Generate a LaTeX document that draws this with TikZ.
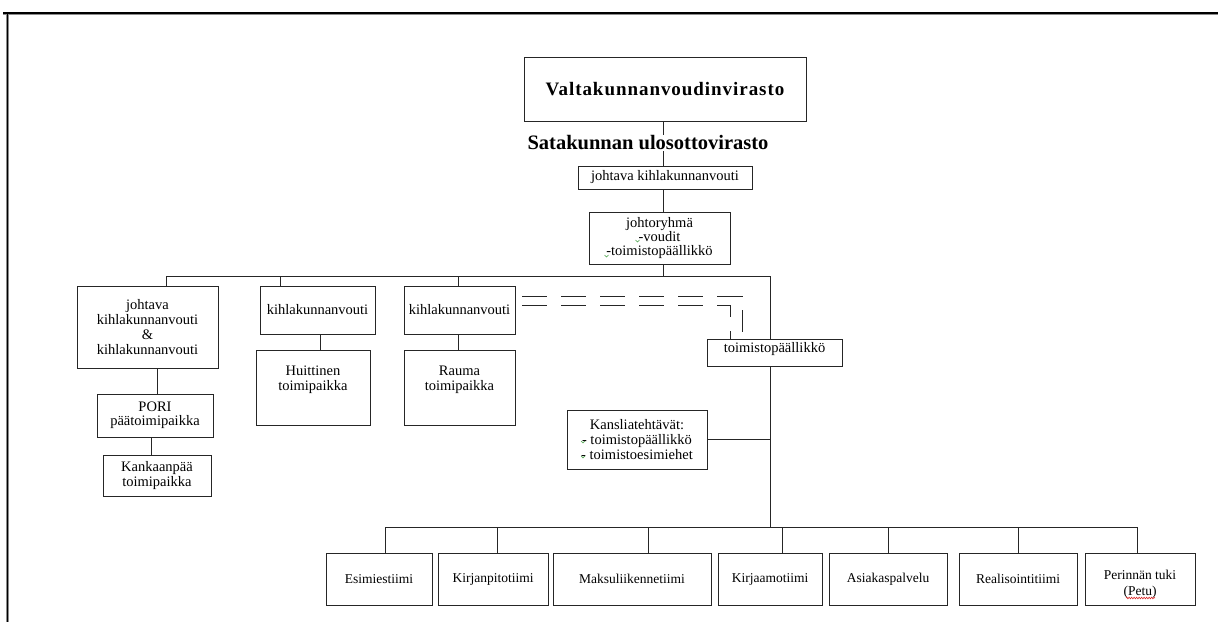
\documentclass[tikz,border=0pt]{standalone}
\usepackage{fontspec}
\usetikzlibrary{decorations.pathmorphing}
\setmainfont{Liberation Serif}
\definecolor{sqgreen}{RGB}{70,160,70}
\definecolor{sqred}{RGB}{220,40,40}
\begin{document}
\begin{tikzpicture}[x=1pt,y=-1pt,
  box/.style={draw=black!85, line width=0.9pt, fill=white, inner sep=0pt, align=center,
    font=\fontsize{14.5}{15}\selectfont},
  tbox/.style={box, minimum height=52pt, font=\fontsize{13.5}{16}\selectfont},
  conn/.style={draw=black!85, line width=0.9pt},
  dconn/.style={conn, dash pattern=on 25pt off 14pt},
  toplabel/.style={anchor=north, inner sep=0pt, align=center, font=\fontsize{14.5}{15}\selectfont},
  gsq/.style={draw=sqgreen, line width=0.6pt},
  rsq/.style={draw=sqred, line width=0.6pt, decorate, decoration={zigzag, amplitude=0.8pt, segment length=2.5pt}}]
\useasboundingbox (0,0) rectangle (1218,622);
% frame
\draw[black!45, line width=3pt] (3,13) -- (1218,13);
\draw[black!45, line width=3pt] (7.5,13) -- (7.5,622);
\draw[black, line width=1.5pt] (3,13) -- (1218,13);
\draw[black, line width=1.5pt] (7.5,13) -- (7.5,622);

% top
\node[box, minimum width=282pt, minimum height=64pt,
  font=\fontsize{19}{22}\selectfont\bfseries\addfontfeature{LetterSpace=5}] (vvv) at (665,89) {Valtakunnanvoudinvirasto};
\node[inner sep=1pt, font=\fontsize{20.5}{22}\selectfont\bfseries] (suv) at (648,143) {Satakunnan ulosottovirasto};
\node[box, minimum width=174pt, minimum height=23pt] (jkv) at (665,177.5) {johtava kihlakunnanvouti};
\node[box, minimum width=141pt, minimum height=52pt, font=\fontsize{14.5}{14}\selectfont] (jr) at (659.5,238) {johtoryhmä\\-voudit\\-toimistopäällikkö};

% second level
\node[box, minimum width=141pt, minimum height=82pt] (b1) at (147.5,327) {johtava\\kihlakunnanvouti\\\&\\kihlakunnanvouti};
\node[box, minimum width=115pt, minimum height=48pt] (b2) at (317.5,310) {kihlakunnanvouti};
\node[box, minimum width=111pt, minimum height=48pt] (b3) at (459.5,310) {kihlakunnanvouti};
\node[box, minimum width=114pt, minimum height=75pt,
  label={[toplabel, yshift=-16pt]north:Huittinen\\toimipaikka}] (hu) at (313,387.5) {};
\node[box, minimum width=111pt, minimum height=75pt,
  label={[toplabel, yshift=-16pt]north:Rauma\\toimipaikka}] (ra) at (459.5,387.5) {};
\node[box, minimum width=116pt, minimum height=43pt, font=\fontsize{14.5}{14}\selectfont] (po) at (155,415.5) {PORI\\päätoimipaikka};
\node[box, minimum width=108pt, minimum height=41pt, font=\fontsize{14.5}{15}\selectfont] (ka) at (157,475.5) {Kankaanpää\\toimipaikka};
\node[box, minimum width=135pt, minimum height=27pt,
  label={[toplabel, yshift=-4pt]north:toimistopäällikkö}] (tp) at (774.5,352.5) {};
\node[box, minimum width=140pt, minimum height=59pt, font=\fontsize{14.5}{15}\selectfont] (kt) at (637,439.5) {Kansliatehtävät:\\- toimistopäällikkö\\- toimistoesimiehet};

% bottom row
\node[tbox, minimum width=106pt] (e1) at (379,579) {Esimiestiimi};
\node[tbox, minimum width=110pt] (e2) at (493,579) {Kirjanpitotiimi};
\node[tbox, minimum width=158pt] (e3) at (632,579) {Maksuliikennetiimi};
\node[tbox, minimum width=104pt] (e4) at (770,579) {Kirjaamotiimi};
\node[tbox, minimum width=118pt] (e5) at (888,579) {Asiakaspalvelu};
\node[tbox, minimum width=118pt] (e6) at (1018,579) {Realisointitiimi};
\node[tbox, minimum width=110pt,
  label={[toplabel, yshift=-17pt, font=\fontsize{13.5}{16}\selectfont]north:Perinnän tuki\\(Petu)}] (e7) at (1140,579) {};

% coordinates
\coordinate (c0) at (663,0);
\coordinate (hL) at (166,276);
\coordinate (h2) at (280,276);
\coordinate (h3) at (458,276);
\coordinate (hR) at (770,276);
\coordinate (bL) at (385,527);
\coordinate (bR) at (1137,527);

% connectors
\draw[conn] (c0 |- vvv.south) -- (c0 |- suv.north);
\draw[conn] (c0 |- suv.south) -- (c0 |- jkv.north);
\draw[conn] (c0 |- jkv.south) -- (c0 |- jr.north);
\draw[conn] (c0 |- jr.south) -- (c0 |- hR);
\draw[conn] (hL) -- (hR);
\draw[conn] (hL) -- (hL |- b1.north);
\draw[conn] (h2) -- (h2 |- b2.north);
\draw[conn] (h3) -- (h3 |- b3.north);
\draw[conn] (320,0 |- b2.south) -- (320,0 |- hu.north);
\draw[conn] (h3 |- b3.south) -- (h3 |- ra.north);
\draw[conn] (157,0 |- b1.south) -- (157,0 |- po.north);
\draw[conn] (151,0 |- po.south) -- (151,0 |- ka.north);
\draw[conn] (hR) -- (hR |- tp.north);
\draw[conn] (hR |- tp.south) -- (hR |- bL);
\draw[conn] (kt.east) -- (kt.east -| hR);
\draw[conn] (bL) -- (bR);
\foreach \n/\x in {e1/385,e2/497,e3/648,e4/782,e5/888,e6/1018,e7/1137}
  \draw[conn] (\x,527) -- (\x,0 |- \n.north);

% double dashed link
\draw[dconn] ([xshift=7pt]b3.east |- 0,296) -- (742,296) -- (742,332);
\draw[dconn] ([xshift=7pt]b3.east |- 0,305) -- (730,305) -- (730,0 |- tp.north);

% spell-check marks
\foreach \p in {(637.5,240),(606.5,255),(583,441),(583,456)}
  \draw[gsq] \p ++(-2,0) -- ++(2,2) -- ++(2,-2);
\draw[rsq] (1126,598) -- (1155,598);
\end{tikzpicture}
\end{document}
